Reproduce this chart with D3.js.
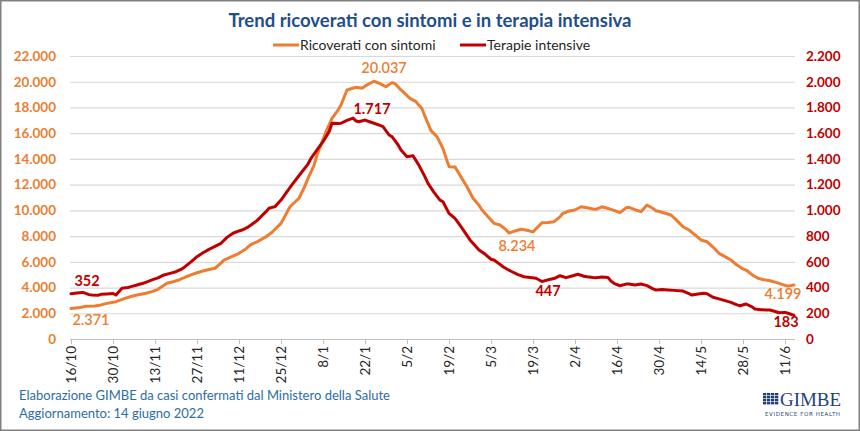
<!DOCTYPE html>
<html>
<head>
<meta charset="utf-8">
<script src="https://cdn.jsdelivr.net/npm/d3@7/dist/d3.min.js"></script>
<style>
  html, body { margin: 0; padding: 0; background: #fff; }
  svg { display: block; font-family: Lato, "Open Sans", sans-serif; }
</style>
</head>
<body>
<svg id="chart" width="860" height="431"></svg>
<script>
// ---------------- DATA ----------------
const startDate = "2021-10-16";
const endDate = "2022-06-14";
const xTickLabels = ["16/10","30/10","13/11","27/11","11/12","25/12","8/1","22/1","5/2","19/2","5/3","19/3","2/4","16/4","30/4","14/5","28/5","11/6"];
const leftTicks = [0,2000,4000,6000,8000,10000,12000,14000,16000,18000,20000,22000];
const rightTicks = [0,200,400,600,800,1000,1200,1400,1600,1800,2000,2200];

// Ricoverati con sintomi: day offset from startDate, value
const ricDay = [0,3,5,8,10,12,15,18,20,22,25,27,29,32,34,36,38,40,42,44,46,48,50,51,53,56,58,60,62,65,67,70,73,76,78,79,81,82,84,85,87,89,90,92,95,97,99,101,103,105,107,108,110,113,115,117,118,120,122,124,126,128,130,132,134,136,137,139,141,143,145,146,148,150,152,154,156,157,159,161,163,164,166,168,170,172,174,175,177,179,181,183,185,186,188,190,192,194,195,197,200,202,204,206,208,210,212,214,216,218,220,222,224,225,227,229,231,233,235,237,239,241];
const ricVal = [2371,2450,2540,2565,2650,2770,2900,3160,3300,3420,3560,3680,3860,4330,4450,4590,4800,4980,5150,5290,5400,5500,5900,6140,6350,6660,6950,7360,7550,7950,8300,8990,10280,10940,11900,12490,13500,14300,15500,16120,17150,17800,18190,19360,19570,19490,19800,20037,19850,19610,19930,19850,19360,18710,18450,17900,17300,16200,15730,14800,13400,13380,12600,11840,10940,10400,10030,9500,8990,8860,8500,8234,8400,8530,8450,8330,8800,9040,9050,9120,9500,9770,9950,10030,10280,10200,10100,10080,10280,10150,10000,9820,10200,10240,10050,9900,10420,10150,9970,9850,9640,9200,8730,8470,8100,7700,7560,7150,6660,6400,6140,5750,5450,5360,5000,4720,4600,4530,4400,4250,4110,4199];

// Terapie intensive: day offset from startDate, value
const tiDay = [0,2,4,6,7,9,10,12,14,15,17,19,20,22,24,26,27,29,31,33,35,37,38,40,42,44,46,48,50,52,54,56,57,59,60,62,65,66,68,70,72,74,77,79,80,82,84,86,87,89,90,92,94,95,96,98,100,101,103,104,106,107,109,110,112,114,116,118,119,121,123,124,126,128,130,133,134,136,138,140,141,143,144,146,147,149,151,153,155,157,159,161,163,165,167,169,171,172,174,175,177,179,180,181,183,185,186,188,190,192,194,195,197,199,201,204,206,207,209,211,212,214,216,218,220,222,223,225,227,228,230,232,233,235,236,238,239,241];
const tiVal = [352,358,362,345,342,340,347,350,354,342,394,400,407,420,433,450,459,475,498,510,523,545,562,600,640,670,697,720,744,790,822,840,847,870,886,920,990,1016,1029,1080,1145,1210,1300,1360,1405,1470,1534,1610,1677,1675,1677,1700,1717,1695,1689,1702,1685,1677,1660,1651,1586,1573,1510,1469,1417,1425,1350,1260,1210,1140,1080,1067,977,938,873,770,745,692,660,620,614,580,562,535,523,500,484,478,472,447,460,470,492,477,490,503,488,484,478,477,482,478,450,433,414,427,428,420,428,415,390,381,385,381,378,373,352,342,350,355,352,324,312,298,285,265,259,272,250,233,228,226,225,212,204,207,200,183];

// Annotated values: [day, value, label]
const ricLabels = [[0,2371,"2.371"],[101,20037,"20.037"],[146,8234,"8.234"],[241,4199,"4.199"]];
const tiLabels = [[0,352,"352"],[94,1717,"1.717"],[157,447,"447"],[241,183,"183"]];

const title = "Trend ricoverati con sintomi e in terapia intensiva";
const seriesNames = ["Ricoverati con sintomi", "Terapie intensive"];
const footer1 = "Elaborazione GIMBE da casi confermati dal Ministero della Salute";
const footer2 = "Aggiornamento: 14 giugno 2022";

// ---------------- STYLE ----------------
const ORANGE = "#ED7D31";
const RED = "#C00000";

const W = 860, H = 431;
const M = { left: 71, right: 794, top: 56, bottom: 339 };

const svg = d3.select("#chart");
const parse = d3.utcParse("%Y-%m-%d");
const t0 = parse(startDate), t1 = parse(endDate);
const dayToDate = d => d3.utcDay.offset(t0, d);

const x = d3.scaleUtc().domain([t0, t1]).range([M.left, M.right]);
const yL = d3.scaleLinear().domain([0, 22000]).range([M.bottom, M.top]);
const yR = d3.scaleLinear().domain([0, 2200]).range([M.bottom, M.top]);

// border
svg.append("rect").attr("x", 0.75).attr("y", 0.75).attr("width", W - 1.5).attr("height", H - 1.5)
  .attr("fill", "#fff").attr("stroke", "#808080").attr("stroke-width", 1.5);

// title
svg.append("text").attr("x", 430).attr("y", 27).attr("text-anchor", "middle")
  .attr("font-size", 18.5).attr("font-weight", 700).attr("fill", "#1F4E8C").text(title);

// gridlines
svg.append("g").selectAll("line").data(leftTicks.filter(d => d > 0)).join("line")
  .attr("x1", M.left - 1).attr("x2", M.right + 1)
  .attr("y1", d => yL(d) + 0.5).attr("y2", d => yL(d) + 0.5)
  .attr("stroke", "#D9D9D9").attr("stroke-width", 1.2);

const fmt = d => d3.format(",")(d).replace(/,/g, ".");

// left axis
const gL = svg.append("g").attr("transform", `translate(${M.left - 15},0)`)
  .call(d3.axisLeft(yL).tickValues(leftTicks).tickSize(0).tickPadding(0).tickFormat(fmt));
gL.select(".domain").remove();
gL.selectAll("text").attr("fill", ORANGE).attr("font-size", 13.5).attr("font-weight", 700)
  .attr("font-family", "Lato, sans-serif");

// right axis
const gR = svg.append("g").attr("transform", `translate(${M.right + 12},0)`)
  .call(d3.axisRight(yR).tickValues(rightTicks).tickSize(0).tickPadding(0).tickFormat(fmt));
gR.select(".domain").remove();
gR.selectAll("text").attr("fill", RED).attr("font-size", 13.5).attr("font-weight", 700)
  .attr("font-family", "Lato, sans-serif");

// x axis
const xTickDates = xTickLabels.map((_, i) => dayToDate(i * 14));
const gX = svg.append("g").attr("transform", `translate(0,${M.bottom})`)
  .call(d3.axisBottom(x).tickValues(xTickDates).tickSize(5).tickPadding(4)
    .tickFormat((d, i) => xTickLabels[i]));
gX.select(".domain").attr("stroke", "#BFBFBF").attr("stroke-width", 1.2)
  .attr("d", `M${M.left - 1},0.5H${M.right + 1}`);
gX.selectAll(".tick line").attr("stroke", "#BFBFBF");
gX.selectAll(".tick text")
  .attr("transform", "rotate(-90)")
  .attr("text-anchor", "end")
  .attr("x", -7).attr("y", 0).attr("dy", "0.35em")
  .attr("fill", "#262626").attr("font-size", 13.5)
  .attr("font-family", "Lato, sans-serif");

// lines
const ricData = ricDay.map((d, i) => ({ date: dayToDate(d), v: ricVal[i] }));
const tiData = tiDay.map((d, i) => ({ date: dayToDate(d), v: tiVal[i] }));

svg.append("path").datum(ricData)
  .attr("fill", "none").attr("stroke", ORANGE).attr("stroke-width", 3)
  .attr("stroke-linejoin", "round").attr("stroke-linecap", "round")
  .attr("d", d3.line().x(d => x(d.date)).y(d => yL(d.v)));

svg.append("path").datum(tiData)
  .attr("fill", "none").attr("stroke", RED).attr("stroke-width", 3)
  .attr("stroke-linejoin", "round").attr("stroke-linecap", "round")
  .attr("d", d3.line().x(d => x(d.date)).y(d => yR(d.v)));

// data labels (offsets from the annotated point)
const ricOff = [[20, 16], [10, -8], [8, 18], [-11, 14]];
const tiOff = [[16, -8], [19, -4], [6, 15], [-8, 12]];
svg.append("g").selectAll("text").data(ricLabels).join("text")
  .attr("x", (d, i) => x(dayToDate(d[0])) + ricOff[i][0])
  .attr("y", (d, i) => yL(d[1]) + ricOff[i][1])
  .attr("text-anchor", "middle").attr("fill", ORANGE)
  .attr("font-size", 14.5).attr("font-weight", 600).text(d => d[2]);
svg.append("g").selectAll("text").data(tiLabels).join("text")
  .attr("x", (d, i) => x(dayToDate(d[0])) + tiOff[i][0])
  .attr("y", (d, i) => yR(d[1]) + tiOff[i][1])
  .attr("text-anchor", "middle").attr("fill", RED)
  .attr("font-size", 14.5).attr("font-weight", 700).text(d => d[2]);

// legend
const legend = svg.append("g").attr("transform", "translate(0,45)");
const legX = [273, 460];
const legColors = [ORANGE, RED];
seriesNames.forEach((name, i) => {
  legend.append("line").attr("x1", legX[i]).attr("x2", legX[i] + 26).attr("y1", 0).attr("y2", 0)
    .attr("stroke", legColors[i]).attr("stroke-width", 3);
  legend.append("text").attr("x", legX[i] + 27).attr("y", 0).attr("dy", "0.35em")
    .attr("font-size", 14).attr("fill", "#262626").text(name);
});

// footer
svg.append("text").attr("x", 19).attr("y", 400).attr("font-size", 13).attr("fill", "#2E6DA4").text(footer1);
svg.append("text").attr("x", 19).attr("y", 418).attr("font-size", 13).attr("fill", "#2E6DA4").text(footer2);

// logo
const logo = svg.append("g").attr("transform", "translate(763,393)");
const cells = d3.range(16);
logo.selectAll("rect").data(cells).join("rect")
  .attr("x", d => (d % 4) * 4).attr("y", d => Math.floor(d / 4) * 3)
  .attr("width", 3.3).attr("height", 2.4).attr("fill", "#1F3F7A");
logo.append("text").attr("x", 17).attr("y", 12.5).attr("font-family", "Liberation Serif, serif")
  .attr("font-size", 18.5).attr("fill", "#1F3F7A").attr("textLength", 61).attr("lengthAdjust", "spacingAndGlyphs").text("GIMBE");
logo.append("text").attr("x", 2).attr("y", 22.5).attr("font-family", "DejaVu Sans, sans-serif")
  .attr("font-size", 5.5).attr("fill", "#1F3F7A").attr("textLength", 75).text("EVIDENCE FOR HEALTH");
</script>
</body>
</html>
